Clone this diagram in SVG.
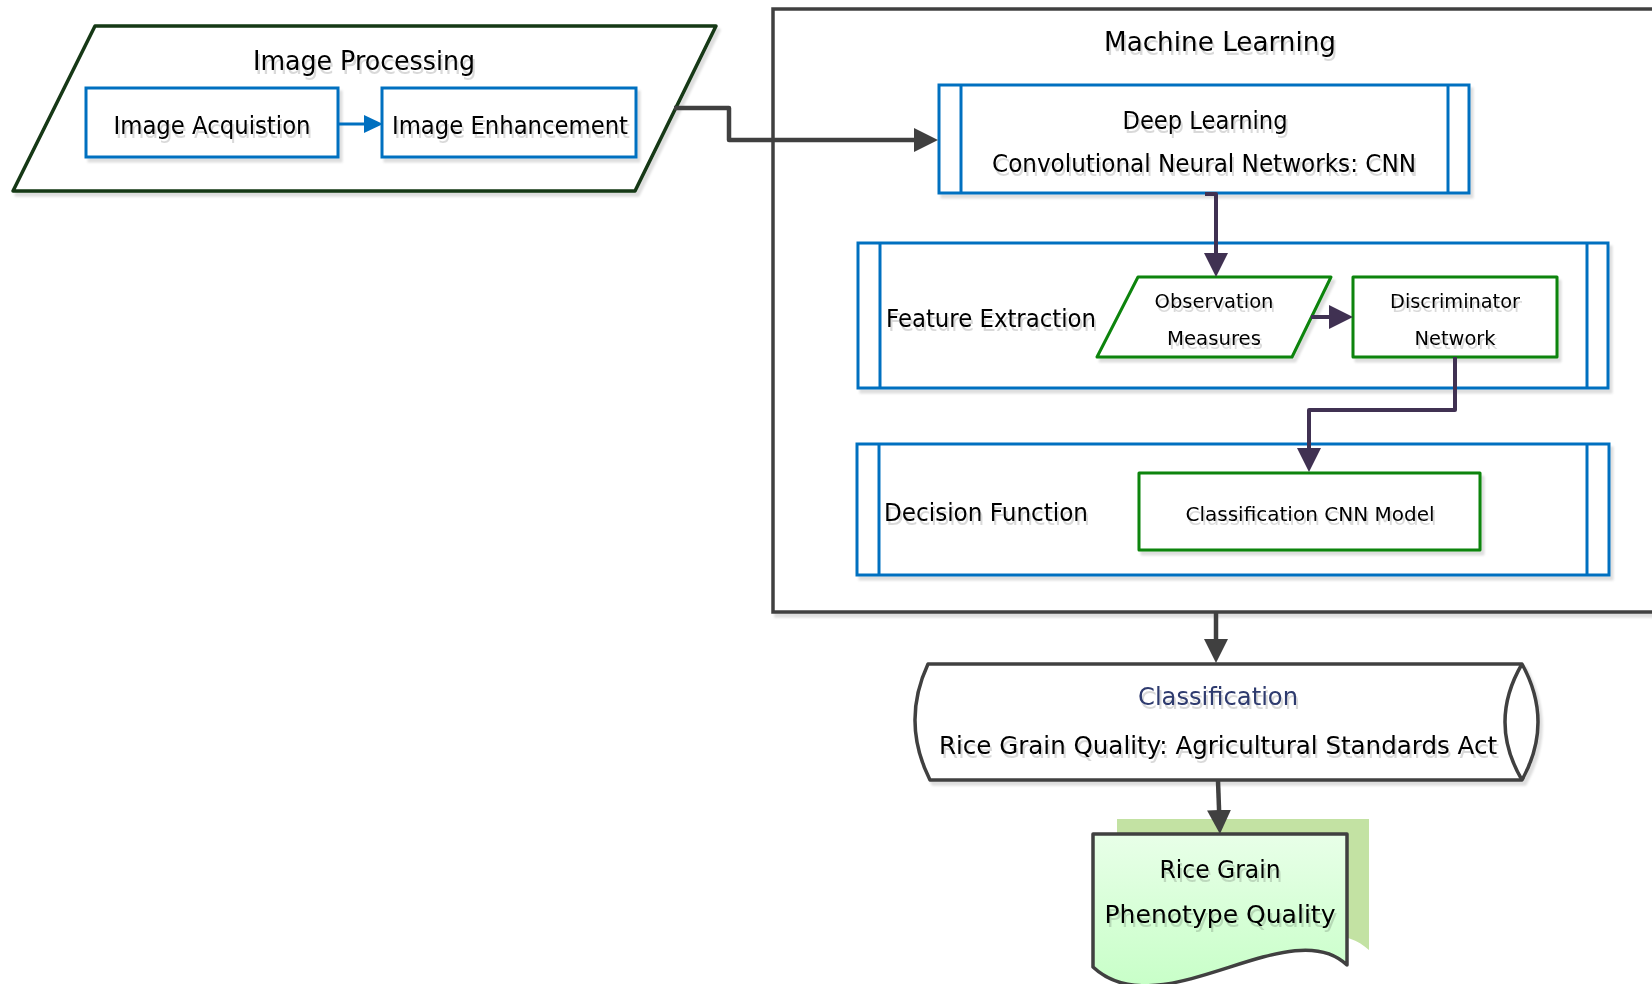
<svg xmlns="http://www.w3.org/2000/svg" width="1652" height="984" viewBox="0 0 1652 984">
  <style>
    .t { font-family: "DejaVu Sans", "Liberation Sans", sans-serif; fill: #000000; filter: url(#tsh); }
    .mid { text-anchor: middle; }
    .big { font-size: 26.5px; }
    .med { font-size: 24px; }
    .sm { font-size: 20px; }
    .blue { fill: #ffffff; stroke: #0070c0; stroke-width: 3; }
    .blueline { stroke: #0070c0; stroke-width: 3; fill: none; }
    .green { fill: #ffffff; stroke: #0b840b; stroke-width: 3; stroke-linejoin: round; }
    .gray { stroke: #404040; stroke-width: 3.5; }
    .conn-g { fill: none; stroke: #404040; stroke-width: 4.5; stroke-linejoin: round; }
    .conn-p { fill: none; stroke: #403152; stroke-width: 4; stroke-linejoin: round; }
    .conn-b { fill: none; stroke: #0070c0; stroke-width: 3; }
    .shd { filter: url(#sh); }
  </style>
  <defs>
    <filter id="sh" x="-5%" y="-5%" width="115%" height="130%">
      <feOffset in="SourceAlpha" dx="3" dy="4" result="o"/>
      <feGaussianBlur in="o" stdDeviation="1" result="b"/>
      <feFlood flood-color="#000000" flood-opacity="0.13"/>
      <feComposite in2="b" operator="in" result="s"/>
      <feMerge><feMergeNode in="s"/><feMergeNode in="SourceGraphic"/></feMerge>
    </filter>
    <filter id="tsh" x="-5%" y="-20%" width="110%" height="160%">
      <feOffset in="SourceAlpha" dx="2" dy="4" result="o"/>
      <feGaussianBlur in="o" stdDeviation="0.6" result="b"/>
      <feFlood flood-color="#000000" flood-opacity="0.15"/>
      <feComposite in2="b" operator="in" result="s"/>
      <feMerge><feMergeNode in="s"/><feMergeNode in="SourceGraphic"/></feMerge>
    </filter>
    <linearGradient id="docFill" x1="0" y1="0" x2="0" y2="1">
      <stop offset="0" stop-color="#e8ffe8"/>
      <stop offset="1" stop-color="#c8ffc8"/>
    </linearGradient>
    <marker id="arrG" viewBox="0 0 24 24" markerWidth="24" markerHeight="24" refX="12" refY="12" markerUnits="userSpaceOnUse" orient="auto">
      <path d="M0,0 L24,12 L0,24 Z" fill="#404040"/>
    </marker>
    <marker id="arrP" viewBox="0 0 24 24" markerWidth="24" markerHeight="24" refX="12" refY="12" markerUnits="userSpaceOnUse" orient="auto">
      <path d="M0,0 L24,12 L0,24 Z" fill="#403152"/>
    </marker>
    <marker id="arrB" viewBox="0 0 19 18" markerWidth="19" markerHeight="18" refX="9" refY="9" markerUnits="userSpaceOnUse" orient="auto">
      <path d="M0,0 L19,9 L0,18 Z" fill="#0070c0"/>
    </marker>
  </defs>

  <rect width="1652" height="984" fill="#ffffff"/>

  <!-- Image Processing stage -->
  <g id="image-processing">
    <path class="shd" d="M95,26 L716,26 L635,191 L13,191 Z" fill="#ffffff" stroke="#143814" stroke-width="3.5" stroke-linejoin="round"/>
    <text class="t big mid" x="364" y="70" textLength="222" lengthAdjust="spacingAndGlyphs">Image Processing</text>
  </g>
  <g id="image-acquisition">
    <rect class="blue shd" x="86" y="88" width="252" height="69"/>
    <text class="t med mid" x="212" y="134" textLength="197" lengthAdjust="spacingAndGlyphs">Image Acquistion</text>
  </g>
  <g id="image-enhancement">
    <rect class="blue shd" x="382" y="88" width="254" height="69"/>
    <text class="t med mid" x="510" y="134" textLength="236" lengthAdjust="spacingAndGlyphs">Image Enhancement</text>
  </g>

  <!-- Machine Learning container -->
  <g id="machine-learning">
    <rect class="gray shd" x="773" y="9" width="1000" height="603" fill="#ffffff"/>
    <text class="t big mid" x="1220" y="51" textLength="232" lengthAdjust="spacingAndGlyphs">Machine Learning</text>
  </g>

  <g id="deep-learning">
    <rect class="blue shd" x="939" y="85" width="530" height="108"/>
    <line class="blueline" x1="961" y1="85" x2="961" y2="193"/>
    <line class="blueline" x1="1448" y1="85" x2="1448" y2="193"/>
    <text class="t med mid" x="1205" y="129" textLength="165" lengthAdjust="spacingAndGlyphs">Deep Learning</text>
    <text class="t med mid" x="1204" y="172" textLength="424" lengthAdjust="spacingAndGlyphs">Convolutional Neural Networks: CNN</text>
  </g>

  <g id="feature-extraction">
    <rect class="blue shd" x="858" y="243" width="750" height="145"/>
    <line class="blueline" x1="880" y1="243" x2="880" y2="388"/>
    <line class="blueline" x1="1587" y1="243" x2="1587" y2="388"/>
    <text class="t med" x="886" y="327" textLength="210" lengthAdjust="spacingAndGlyphs">Feature Extraction</text>
  </g>

  <g id="observation-measures">
    <path class="green shd" d="M1138,277 L1331,277 L1292,357 L1097,357 Z"/>
    <text class="t sm mid" x="1214" y="308" textLength="119" lengthAdjust="spacingAndGlyphs">Observation</text>
    <text class="t sm mid" x="1214" y="345" textLength="94" lengthAdjust="spacingAndGlyphs">Measures</text>
  </g>

  <g id="discriminator-network">
    <rect class="green shd" x="1353" y="277" width="204" height="80"/>
    <text class="t sm mid" x="1455" y="308" textLength="130" lengthAdjust="spacingAndGlyphs">Discriminator</text>
    <text class="t sm mid" x="1455" y="345" textLength="81" lengthAdjust="spacingAndGlyphs">Network</text>
  </g>

  <g id="decision-function">
    <rect class="blue shd" x="857" y="444" width="752" height="131"/>
    <line class="blueline" x1="879" y1="444" x2="879" y2="575"/>
    <line class="blueline" x1="1587" y1="444" x2="1587" y2="575"/>
    <text class="t med" x="884" y="521" textLength="204" lengthAdjust="spacingAndGlyphs">Decision Function</text>
  </g>

  <g id="classification-cnn-model">
    <rect class="green shd" x="1139" y="473" width="341" height="77"/>
    <text class="t sm mid" x="1310" y="521" textLength="249" lengthAdjust="spacingAndGlyphs">Classification CNN Model</text>
  </g>

  <!-- Classification stored-data shape: pointed lens ends -->
  <g id="classification">
    <path class="gray shd" d="M928,664 L1522,664 Q1554,722 1522,780 L930,780 Q901,722 928,664 Z" fill="#ffffff" stroke-linejoin="round"/>
    <path class="gray" d="M1522,664 Q1488,722 1522,780" fill="none"/>
    <text class="t med mid" x="1218" y="705" textLength="160" lengthAdjust="spacingAndGlyphs" style="fill:#2e3a6e">Classification</text>
    <text class="t med mid" x="1218" y="754" textLength="558" lengthAdjust="spacingAndGlyphs">Rice Grain Quality: Agricultural Standards Act</text>
  </g>

  <!-- Output document -->
  <g id="phenotype-quality">
    <path d="M1117,819 L1369,819 L1369,950 C1312,895 1184,1015 1117,952 Z" fill="#c3e2a3"/>
    <path d="M1093,834 L1347,834 L1347,965 C1290,910 1160,1030 1093,967 Z" fill="url(#docFill)" stroke="#404040" stroke-width="3.5" stroke-linejoin="round"/>
    <text class="t med mid" x="1220" y="878" textLength="121" lengthAdjust="spacingAndGlyphs">Rice Grain</text>
    <text class="t med mid" x="1220" y="923" textLength="231" lengthAdjust="spacingAndGlyphs">Phenotype Quality</text>
  </g>

  <!-- Connectors -->
  <g id="connectors">
    <path class="conn-b" d="M338,124 H373" marker-end="url(#arrB)"/>
    <path class="conn-g" d="M674,108 H729 V140 H926" marker-end="url(#arrG)"/>
    <path class="conn-p" d="M1205,194 H1216 V265" marker-end="url(#arrP)"/>
    <path class="conn-p" d="M1311,317 H1341" marker-end="url(#arrP)"/>
    <path class="conn-p" d="M1455,357 V410 H1309 V460" marker-end="url(#arrP)"/>
    <path class="conn-g" d="M1216,612 V651" marker-end="url(#arrG)"/>
    <path class="conn-g" d="M1218,781 L1219.5,822" marker-end="url(#arrG)"/>
  </g>
</svg>
